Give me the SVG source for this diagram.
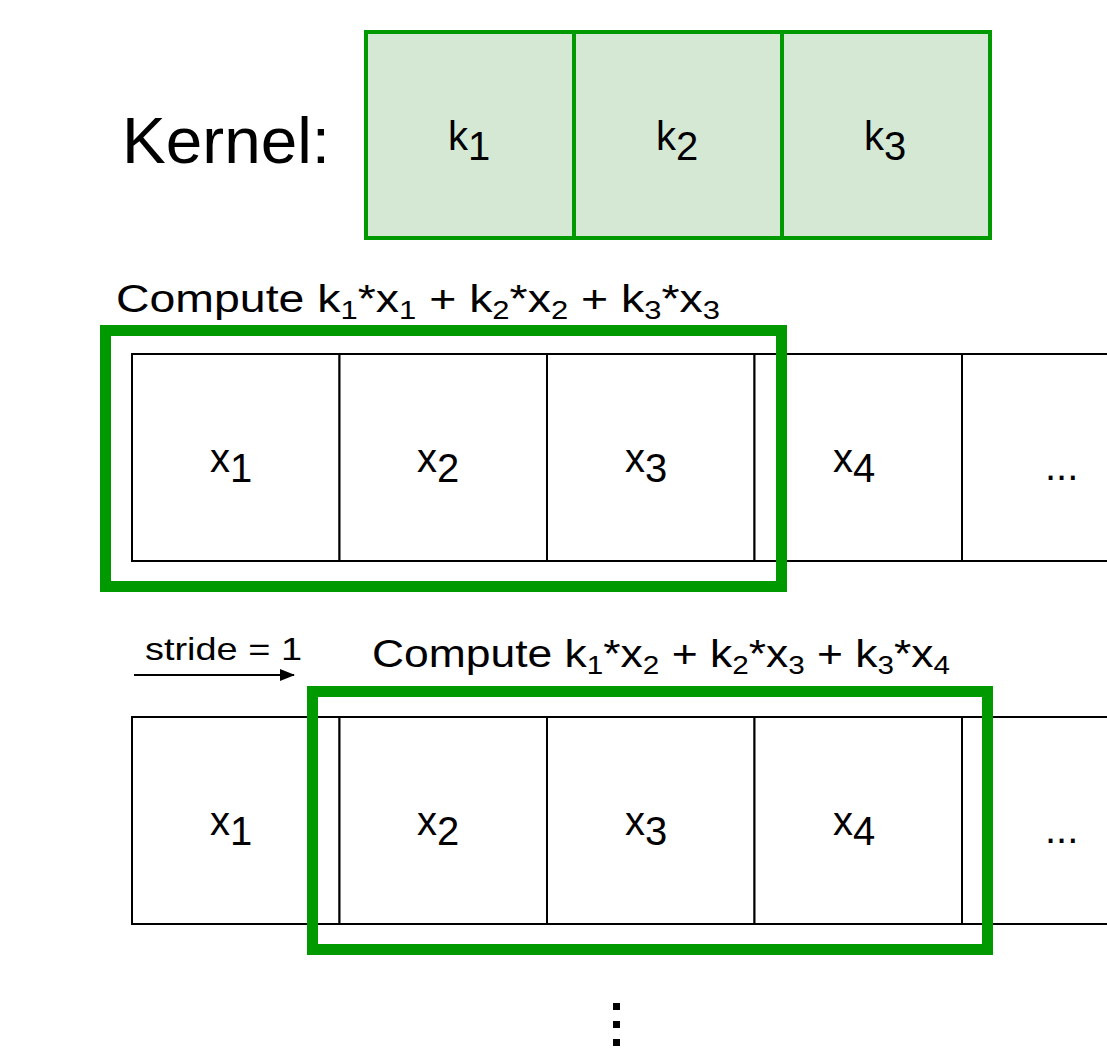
<svg xmlns="http://www.w3.org/2000/svg" width="1107" height="1052" viewBox="0 0 1107 1052">
<style>
.kcell{fill:#d5e8d4;stroke:#009900;stroke-width:4}
.cell{fill:#ffffff;stroke:#000000;stroke-width:2}
.hl{fill:none;stroke:#009900;stroke-width:11}
.lab{font-family:"Liberation Sans",Arial,sans-serif;font-size:40px;fill:#000}
.cal{font-family:"Liberation Sans",Arial,sans-serif;fill:#000}
.sub{font-size:26px}
</style>
<defs>
<marker id="ah" markerWidth="16" markerHeight="14" refX="14" refY="6" orient="auto" markerUnits="userSpaceOnUse">
<path d="M0,0 L15,6 L0,12 Z" fill="#000"/>
</marker>
</defs>
<rect width="1107" height="1052" fill="#fff"/>
<text class="cal" x="122" y="163" font-size="65" textLength="208" lengthAdjust="spacingAndGlyphs">Kernel:</text>
<g id="kernel">
<g id="k1"><rect class="kcell" x="366" y="32" width="208" height="206"/><text class="lab" x="448" y="150">k<tspan dy="10">1</tspan></text></g>
<g id="k2"><rect class="kcell" x="574" y="32" width="208" height="206"/><text class="lab" x="656" y="150">k<tspan dy="10">2</tspan></text></g>
<g id="k3"><rect class="kcell" x="782" y="32" width="208" height="206"/><text class="lab" x="864" y="150">k<tspan dy="10">3</tspan></text></g>
</g>
<text class="cal" x="116" y="312" font-size="39" textLength="604" lengthAdjust="spacingAndGlyphs">Compute k<tspan class="sub" dy="7">1</tspan><tspan dy="-7">*x</tspan><tspan class="sub" dy="7">1</tspan><tspan dy="-7"> + k</tspan><tspan class="sub" dy="7">2</tspan><tspan dy="-7">*x</tspan><tspan class="sub" dy="7">2</tspan><tspan dy="-7"> + k</tspan><tspan class="sub" dy="7">3</tspan><tspan dy="-7">*x</tspan><tspan class="sub" dy="7">3</tspan></text>
<g id="row1">
<g id="r1x1"><rect class="cell" x="132" y="354" width="207.5" height="207"/><text class="lab" x="210" y="472">x<tspan dy="10">1</tspan></text></g>
<g id="r1x2"><rect class="cell" x="339.5" y="354" width="207.5" height="207"/><text class="lab" x="417" y="472">x<tspan dy="10">2</tspan></text></g>
<g id="r1x3"><rect class="cell" x="547" y="354" width="207.5" height="207"/><text class="lab" x="625" y="472">x<tspan dy="10">3</tspan></text></g>
<g id="r1x4"><rect class="cell" x="754.5" y="354" width="207.5" height="207"/><text class="lab" x="833" y="472">x<tspan dy="10">4</tspan></text></g>
<g id="r1x5"><rect class="cell" x="962" y="354" width="207.5" height="207"/><text class="lab" x="1045" y="480" font-size="30">...</text></g>
</g>
<g id="window1"><rect class="hl" x="105.5" y="330.5" width="676" height="256"/></g>
<text class="cal" x="145" y="660" font-size="32" textLength="157" lengthAdjust="spacingAndGlyphs">stride = 1</text>
<text class="cal" x="372" y="667" font-size="39" textLength="578" lengthAdjust="spacingAndGlyphs">Compute k<tspan class="sub" dy="7">1</tspan><tspan dy="-7">*x</tspan><tspan class="sub" dy="7">2</tspan><tspan dy="-7"> + k</tspan><tspan class="sub" dy="7">2</tspan><tspan dy="-7">*x</tspan><tspan class="sub" dy="7">3</tspan><tspan dy="-7"> + k</tspan><tspan class="sub" dy="7">3</tspan><tspan dy="-7">*x</tspan><tspan class="sub" dy="7">4</tspan></text>
<g id="connectors">
<line x1="134" y1="675" x2="294" y2="675" stroke="#000" stroke-width="2" marker-end="url(#ah)"/>
</g>
<g id="row2">
<g id="r2x1"><rect class="cell" x="132" y="717" width="207.5" height="207"/><text class="lab" x="210" y="835">x<tspan dy="10">1</tspan></text></g>
<g id="r2x2"><rect class="cell" x="339.5" y="717" width="207.5" height="207"/><text class="lab" x="417" y="835">x<tspan dy="10">2</tspan></text></g>
<g id="r2x3"><rect class="cell" x="547" y="717" width="207.5" height="207"/><text class="lab" x="625" y="835">x<tspan dy="10">3</tspan></text></g>
<g id="r2x4"><rect class="cell" x="754.5" y="717" width="207.5" height="207"/><text class="lab" x="833" y="835">x<tspan dy="10">4</tspan></text></g>
<g id="r2x5"><rect class="cell" x="962" y="717" width="207.5" height="207"/><text class="lab" x="1045" y="843" font-size="30">...</text></g>
</g>
<g id="window2"><rect class="hl" x="312.5" y="691.5" width="675" height="258"/></g>
<g id="vdots" fill="#000">
<rect x="613" y="1003" width="7" height="7"/>
<rect x="613" y="1021" width="7" height="7"/>
<rect x="613" y="1039" width="7" height="7"/>
</g>
</svg>
